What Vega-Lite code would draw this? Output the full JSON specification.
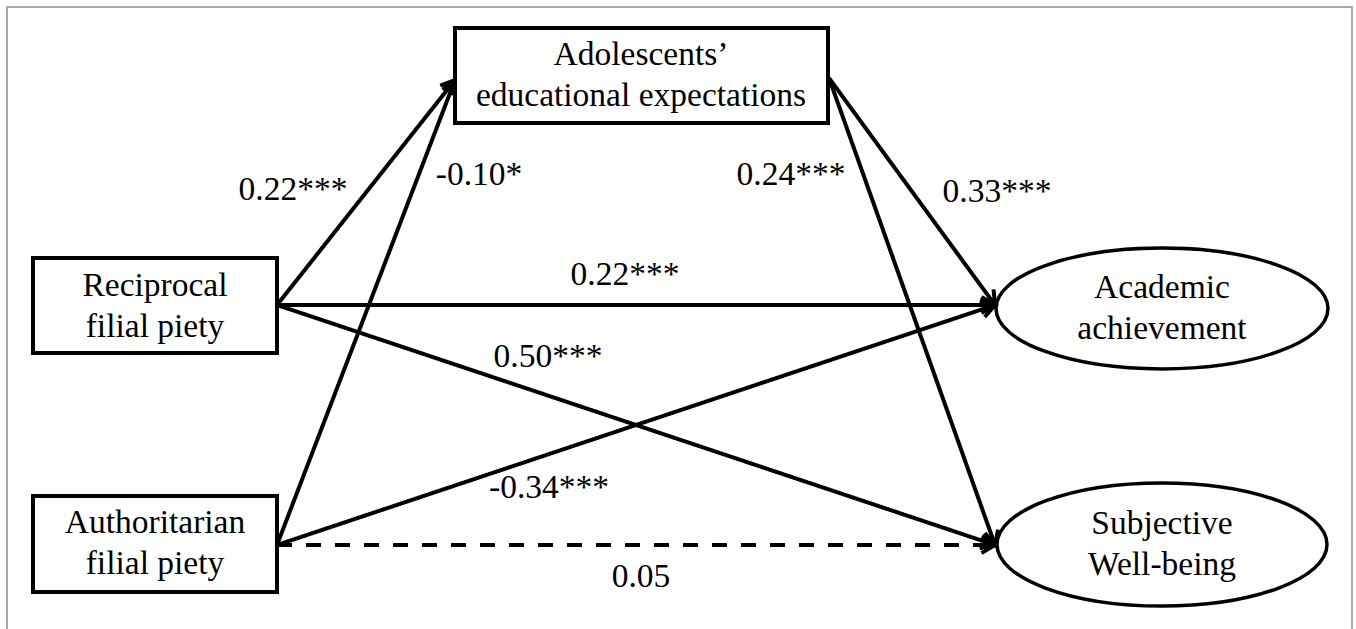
{
  "$schema": "https://vega.github.io/schema/vega-lite/v6.json",
  "width": 1356,
  "height": 629,
  "autosize": {"type": "fit", "contains": "padding"},
  "padding": 0,
  "background": "white",
  "config": {"view": {"stroke": null}},
  "datasets": {
    "frame": [{"x0": 7, "x1": 1352, "y0": 7, "y1": 680}],
    "boxes": [
      {"node": "Reciprocal filial piety", "text": "Reciprocal\nfilial piety", "x0": 33, "x1": 277, "y0": 258, "y1": 353, "cx": 155, "cy": 306},
      {"node": "Authoritarian filial piety", "text": "Authoritarian\nfilial piety", "x0": 33, "x1": 277, "y0": 496, "y1": 592, "cx": 155, "cy": 543},
      {"node": "Adolescents' educational expectations", "text": "Adolescents’\neducational expectations", "x0": 455, "x1": 828, "y0": 28, "y1": 123, "cx": 641, "cy": 75.5}
    ],
    "ellipses": [
      {"node": "Academic achievement", "text": "Academic\nachievement", "cx": 1162, "cy": 308.5},
      {"node": "Subjective Well-being", "text": "Subjective\nWell-being", "cx": 1162, "cy": 544.5}
    ],
    "edges": [
      {"from": "Reciprocal filial piety", "to": "Adolescents' educational expectations", "coef": "0.22***", "significant": "yes", "x1": 277, "y1": 305, "x2": 455, "y2": 80, "lx": 293, "ly": 190},
      {"from": "Authoritarian filial piety", "to": "Adolescents' educational expectations", "coef": "-0.10*", "significant": "yes", "x1": 277, "y1": 545, "x2": 455, "y2": 80, "lx": 479, "ly": 175},
      {"from": "Adolescents' educational expectations", "to": "Academic achievement", "coef": "0.33***", "significant": "yes", "x1": 829, "y1": 78, "x2": 995, "y2": 305, "lx": 997, "ly": 192},
      {"from": "Adolescents' educational expectations", "to": "Subjective Well-being", "coef": "0.24***", "significant": "yes", "x1": 829, "y1": 78, "x2": 995, "y2": 545, "lx": 791, "ly": 175},
      {"from": "Reciprocal filial piety", "to": "Academic achievement", "coef": "0.22***", "significant": "yes", "x1": 277, "y1": 305, "x2": 995, "y2": 305, "lx": 625, "ly": 275},
      {"from": "Reciprocal filial piety", "to": "Subjective Well-being", "coef": "0.50***", "significant": "yes", "x1": 277, "y1": 305, "x2": 995, "y2": 545, "lx": 548, "ly": 357},
      {"from": "Authoritarian filial piety", "to": "Academic achievement", "coef": "-0.34***", "significant": "yes", "x1": 277, "y1": 545, "x2": 995, "y2": 305, "lx": 549, "ly": 488},
      {"from": "Authoritarian filial piety", "to": "Subjective Well-being", "coef": "0.05", "significant": "no", "x1": 277, "y1": 545, "x2": 995, "y2": 545, "lx": 641, "ly": 577}
    ]
  },
  "layer": [
    {
      "data": {"name": "frame"},
      "mark": {"type": "rect", "fill": null, "stroke": "#8f8f8f", "strokeWidth": 1.5, "clip": true},
      "encoding": {
        "x": {"field": "x0", "type": "quantitative", "scale": {"domain": [0, 1356], "nice": false, "zero": false}, "axis": null},
        "x2": {"field": "x1"},
        "y": {"field": "y0", "type": "quantitative", "scale": {"domain": [0, 629], "reverse": true, "nice": false, "zero": false}, "axis": null},
        "y2": {"field": "y1"}
      }
    },
    {
      "data": {"name": "edges"},
      "mark": {"type": "rule", "color": "black", "strokeWidth": 4},
      "encoding": {
        "x": {"field": "x1", "type": "quantitative", "scale": {"domain": [0, 1356], "nice": false, "zero": false}, "axis": null},
        "x2": {"field": "x2"},
        "y": {"field": "y1", "type": "quantitative", "scale": {"domain": [0, 629], "reverse": true, "nice": false, "zero": false}, "axis": null},
        "y2": {"field": "y2"},
        "strokeDash": {"field": "significant", "type": "nominal", "scale": {"domain": ["yes", "no"], "range": [[1, 0], [15, 14]]}, "legend": null}
      }
    },
    {
      "data": {"name": "edges"},
      "transform": [
        {"calculate": "atan2(datum.y2 - datum.y1, datum.x2 - datum.x1) * 180 / PI", "as": "heading"}
      ],
      "mark": {"type": "point", "shape": "M-1,-0.6L0,0L-1,0.6", "filled": false, "color": "black", "strokeWidth": 4, "strokeJoin": "miter", "size": 729, "opacity": 1},
      "encoding": {
        "x": {"field": "x2", "type": "quantitative", "scale": {"domain": [0, 1356], "nice": false, "zero": false}, "axis": null},
        "y": {"field": "y2", "type": "quantitative", "scale": {"domain": [0, 629], "reverse": true, "nice": false, "zero": false}, "axis": null},
        "angle": {"field": "heading", "type": "quantitative", "scale": null}
      }
    },
    {
      "data": {"name": "boxes"},
      "mark": {"type": "rect", "fill": "white", "stroke": "black", "strokeWidth": 4},
      "encoding": {
        "x": {"field": "x0", "type": "quantitative", "scale": {"domain": [0, 1356], "nice": false, "zero": false}, "axis": null},
        "x2": {"field": "x1"},
        "y": {"field": "y0", "type": "quantitative", "scale": {"domain": [0, 629], "reverse": true, "nice": false, "zero": false}, "axis": null},
        "y2": {"field": "y1"}
      }
    },
    {
      "data": {"name": "ellipses"},
      "transform": [{"filter": "datum.node === 'Academic achievement'"}],
      "mark": {"type": "point", "shape": "M-1,0A1,0.364 0 1,1 1,0A1,0.364 0 1,1 -1,0Z", "filled": false, "color": "black", "strokeWidth": 3.5, "size": 110224, "opacity": 1},
      "encoding": {
        "x": {"field": "cx", "type": "quantitative", "scale": {"domain": [0, 1356], "nice": false, "zero": false}, "axis": null},
        "y": {"field": "cy", "type": "quantitative", "scale": {"domain": [0, 629], "reverse": true, "nice": false, "zero": false}, "axis": null}
      }
    },
    {
      "data": {"name": "ellipses"},
      "transform": [{"filter": "datum.node === 'Subjective Well-being'"}],
      "mark": {"type": "point", "shape": "M-1,0A1,0.373 0 1,1 1,0A1,0.373 0 1,1 -1,0Z", "filled": false, "color": "black", "strokeWidth": 3.5, "size": 108900, "opacity": 1},
      "encoding": {
        "x": {"field": "cx", "type": "quantitative", "scale": {"domain": [0, 1356], "nice": false, "zero": false}, "axis": null},
        "y": {"field": "cy", "type": "quantitative", "scale": {"domain": [0, 629], "reverse": true, "nice": false, "zero": false}, "axis": null}
      }
    },
    {
      "data": {"name": "boxes"},
      "mark": {"type": "text", "font": "Liberation Serif", "fontSize": 33.5, "lineBreak": "\n", "lineHeight": 41, "baseline": "middle", "align": "center", "dy": -20.5, "color": "black"},
      "encoding": {
        "x": {"field": "cx", "type": "quantitative", "scale": {"domain": [0, 1356], "nice": false, "zero": false}, "axis": null},
        "y": {"field": "cy", "type": "quantitative", "scale": {"domain": [0, 629], "reverse": true, "nice": false, "zero": false}, "axis": null},
        "text": {"field": "text", "type": "nominal"}
      }
    },
    {
      "data": {"name": "ellipses"},
      "mark": {"type": "text", "font": "Liberation Serif", "fontSize": 33.5, "lineBreak": "\n", "lineHeight": 41, "baseline": "middle", "align": "center", "dy": -20.5, "color": "black"},
      "encoding": {
        "x": {"field": "cx", "type": "quantitative", "scale": {"domain": [0, 1356], "nice": false, "zero": false}, "axis": null},
        "y": {"field": "cy", "type": "quantitative", "scale": {"domain": [0, 629], "reverse": true, "nice": false, "zero": false}, "axis": null},
        "text": {"field": "text", "type": "nominal"}
      }
    },
    {
      "data": {"name": "edges"},
      "mark": {"type": "text", "font": "Liberation Serif", "fontSize": 33.5, "baseline": "middle", "align": "center", "color": "black"},
      "encoding": {
        "x": {"field": "lx", "type": "quantitative", "scale": {"domain": [0, 1356], "nice": false, "zero": false}, "axis": null},
        "y": {"field": "ly", "type": "quantitative", "scale": {"domain": [0, 629], "reverse": true, "nice": false, "zero": false}, "axis": null},
        "text": {"field": "coef", "type": "nominal"}
      }
    }
  ]
}
